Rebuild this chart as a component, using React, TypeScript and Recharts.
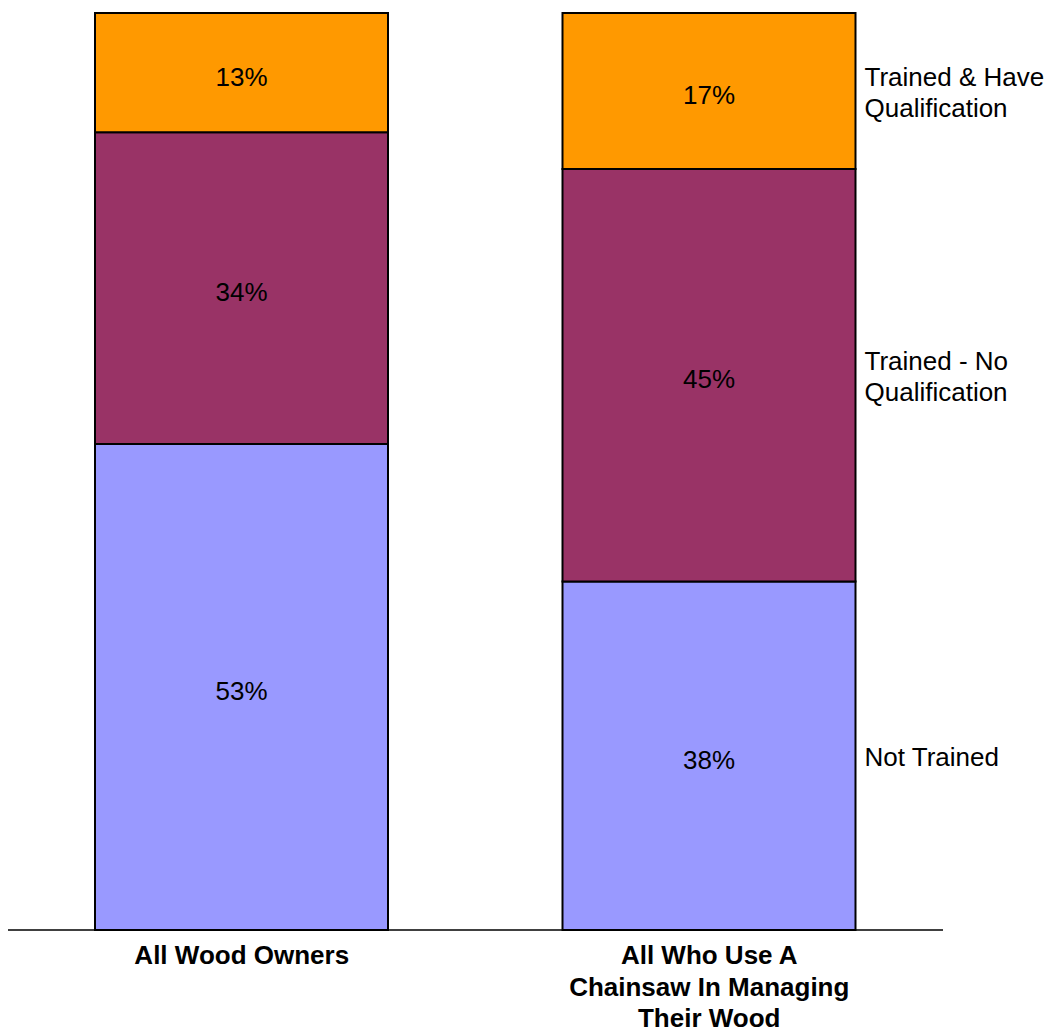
import { BarChart, Bar, XAxis, YAxis, LabelList, Text } from 'recharts';

const categories = ['All Wood Owners', 'All Who Use A Chainsaw In Managing Their Wood'];
const notTrained = [53, 38];
const trainedNoQual = [34, 45];
const trainedQual = [13, 17];

const seriesNames = ['Not Trained', 'Trained - No Qualification', 'Trained & Have Qualification'];
const seriesColors = ['#9999FF', '#993366', '#FF9900'];

const chartData = categories.map((name, i) => ({
    name,
    notTrained: notTrained[i],
    trainedNoQual: trainedNoQual[i],
    trainedQual: trainedQual[i],
}));

const seriesKeys = ['notTrained', 'trainedNoQual', 'trainedQual'];

const font = 'Arial, "Liberation Sans", sans-serif';

const CategoryTick = (props: any) => {
    const { x, y, payload } = props;
    return (
        <Text
            x={x}
            y={y}
            width={300}
            textAnchor="middle"
            verticalAnchor="start"
            lineHeight="1.2em"
            style={{ fontSize: '26px', fontWeight: 'bold', fontFamily: font }}
            fill="#000"
        >
            {payload.value}
        </Text>
    );
};

// series name drawn to the right of the last bar, like the original legend
const sideLabel = (name: string) => (props: any) => {
    const { x, y, width, height, index } = props;
    if (index !== chartData.length - 1) return null;
    return (
        <Text
            key={name}
            x={Number(x) + Number(width) + 9}
            y={Number(y) + Number(height) / 2 + 1}
            width={190}
            textAnchor="start"
            verticalAnchor="middle"
            lineHeight="1.2em"
            style={{ fontSize: '26px', fontFamily: font }}
            fill="#000"
        >
            {name}
        </Text>
    );
};

export default function App() {
    return (
        <div style={{ position: 'absolute', left: 0, top: 0, background: '#fff' }}>
            <BarChart
                width={1052}
                height={1031}
                data={chartData}
                margin={{ top: 13, right: 109, left: 8, bottom: 0 }}
                style={{ fontFamily: font }}
            >
                <XAxis
                    dataKey="name"
                    height={101}
                    axisLine={{ stroke: '#000', strokeWidth: 1.5 }}
                    tickLine={false}
                    tickSize={0}
                    tickMargin={16}
                    interval={0}
                    tick={<CategoryTick />}
                />
                <YAxis hide domain={[0, 100]} />
                {seriesKeys.map((key, i) => (
                    <Bar
                        key={key}
                        dataKey={key}
                        stackId="a"
                        fill={seriesColors[i]}
                        stroke="#000"
                        strokeWidth={2}
                        barSize={293}
                        isAnimationActive={false}
                    >
                        <LabelList
                            dataKey={key}
                            position="center"
                            formatter={(v: any) => `${v}%`}
                            fill="#000"
                            fontSize={26}
                            fontFamily={font}
                            dy={4}
                        />
                        <LabelList dataKey={key} content={sideLabel(seriesNames[i])} />
                    </Bar>
                ))}
            </BarChart>
        </div>
    );
}
